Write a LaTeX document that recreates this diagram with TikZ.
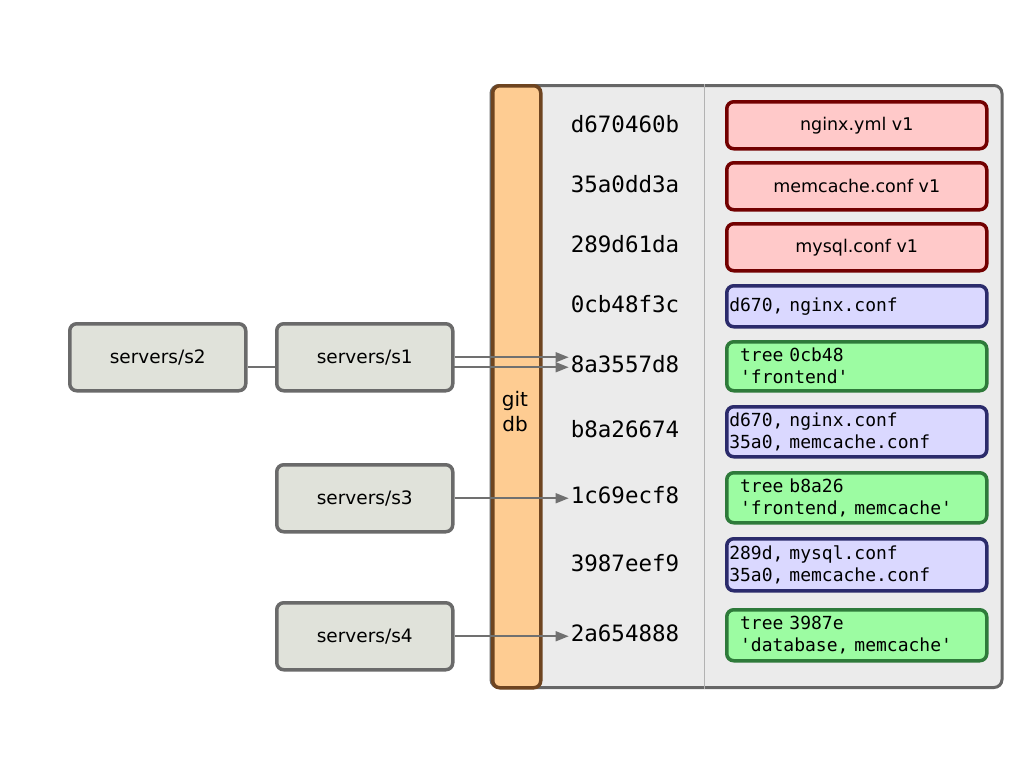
\documentclass[tikz,border=0pt]{standalone}
\usepackage{fontspec}
\setmainfont{DejaVu Sans}
\setmonofont{DejaVu Sans Mono}
\usetikzlibrary{arrows.meta}
\definecolor{redfill}{HTML}{FFC9C9}
\definecolor{redline}{HTML}{720000}
\definecolor{bluefill}{HTML}{DAD8FF}
\definecolor{blueline}{HTML}{2B2B6B}
\definecolor{greenfill}{HTML}{9CFCA2}
\definecolor{greenline}{HTML}{2E7A3A}
\definecolor{orfill}{HTML}{FECC92}
\definecolor{orline}{HTML}{6E4420}
\definecolor{dbfill}{HTML}{EBEBEB}
\definecolor{dbline}{HTML}{666666}
\definecolor{srvfill}{HTML}{E0E2DA}
\definecolor{srvline}{HTML}{6A6A6A}
\definecolor{arrowc}{HTML}{707070}
\begin{document}
\begin{tikzpicture}[x=1pt,y=-1pt,
  server/.style={draw=srvline, fill=srvfill, line width=3.5pt, rounded corners=7pt,
    minimum width=176pt, minimum height=67pt, anchor=north west, inner sep=0pt,
    font=\fontsize{18.5}{22}\selectfont},
  hash/.style={font=\ttfamily\fontsize{22.5}{26}\selectfont, inner sep=2pt},
  obj/.style={line width=3.5pt, rounded corners=7pt, minimum width=260pt,
    anchor=north west, inner sep=0pt},
  blob/.style={obj, draw=redline, fill=redfill, font=\fontsize{17.5}{20}\selectfont},
  treebox/.style={obj, draw=blueline, fill=bluefill, text width=255pt, align=left,
    font=\ttfamily\fontsize{18}{22}\selectfont},
  commit/.style={obj, draw=greenline, fill=greenfill, text width=255pt, align=left,
    font=\ttfamily\fontsize{18}{22}\selectfont},
  conn/.style={draw=arrowc, line width=1.6pt, -{Triangle[length=13pt,width=10pt]}},
]
\useasboundingbox (0,0) rectangle (1024,768);
% database panel
\node[draw=dbline, fill=dbfill, line width=3pt, rounded corners=8pt,
  minimum width=511pt, minimum height=602pt, anchor=north west, inner sep=0pt]
  (db) at (489.5,84) {};
\draw[draw=black!30, line width=1pt] (db.north west -| 704,0) -- (db.south west -| 704,0);
\node[draw=orline, fill=orfill, line width=3.5pt, rounded corners=7pt,
  minimum width=48pt, minimum height=602pt, anchor=north west, inner sep=0pt]
  (bar) at (491,84) {};
\node[align=center, font=\fontsize{20}{25}\selectfont] (gitdb) at (515,412) {git\\db};
% hashes
\node[hash] (h1) at (625,124) {d670460b};
\node[hash] (h2) at (625,184) {35a0dd3a};
\node[hash] (h3) at (625,244) {289d61da};
\node[hash] (h4) at (625,304) {0cb48f3c};
\node[hash] (h5) at (625,364) {8a3557d8};
\node[hash] (h6) at (625,429) {b8a26674};
\node[hash] (h7) at (625,495) {1c69ecf8};
\node[hash] (h8) at (625,563) {3987eef9};
\node[hash] (h9) at (625,633) {2a654888};
% objects
\node[blob, minimum height=47pt] (o1) at (725,100) {nginx.yml v1};
\node[blob, minimum height=47pt] (o2) at (725,161) {memcache.conf v1};
\node[blob, minimum height=47pt] (o3) at (725,222) {mysql.conf v1};
\node[treebox, minimum height=41pt] (o4) at (725,284) {d670, nginx.conf};
\node[commit, minimum height=49pt] (o5) at (725,340) {\phantom{x}tree 0cb48\\\phantom{x}'frontend'};
\node[treebox, minimum height=50pt] (o6) at (725,405) {d670, nginx.conf\\35a0, memcache.conf};
\node[commit, minimum height=50pt] (o7) at (725,471) {\phantom{x}tree b8a26\\\phantom{x}'frontend, memcache'};
\node[treebox, minimum height=52pt] (o8) at (725,537) {289d, mysql.conf\\35a0, memcache.conf};
\node[commit, minimum height=51pt] (o9) at (725,608) {\phantom{x}tree 3987e\\\phantom{x}'database, memcache'};
% servers
\node[server] (s2) at (68,322) {servers/s2};
\draw[conn] ([yshift=-10pt]s2.east) -- ([yshift=-10pt]s2.east -| h5.west);
\node[server] (s1) at (275,322) {servers/s1};
\draw[conn] (s1.east) -- (s1.east -| h5.west);
\node[server] (s3) at (275,463) {servers/s3};
\draw[conn] (s3.east) -- (s3.east -| h7.west);
\node[server] (s4) at (275,601) {servers/s4};
\draw[conn] (s4.east) -- (s4.east -| h9.west);
\end{tikzpicture}
\end{document}
